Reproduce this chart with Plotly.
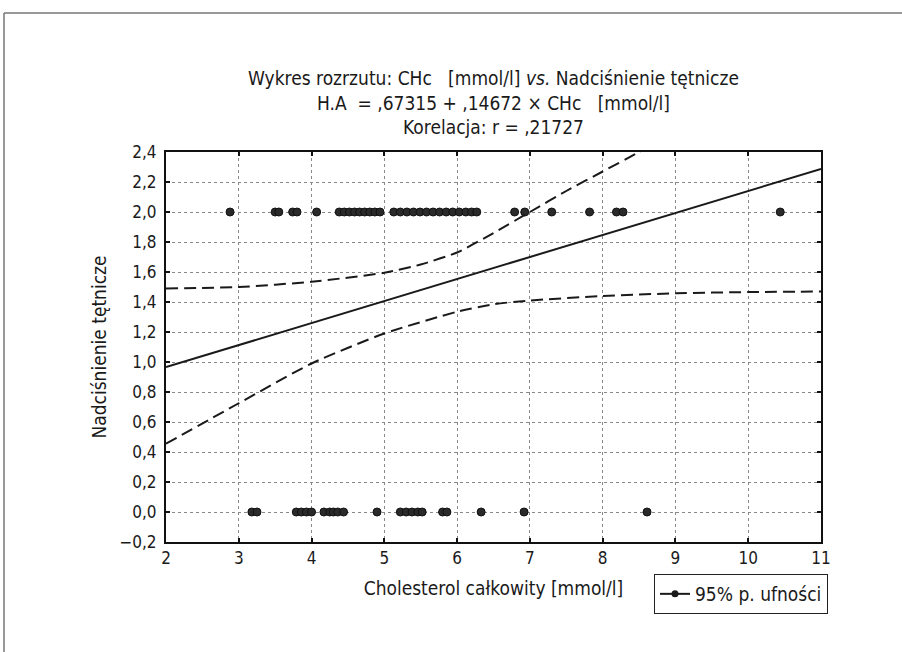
import plotly.graph_objects as go

# ---- data ----
chol_high = [2.88, 3.50, 3.55, 3.74, 3.80, 4.07, 4.38, 4.45, 4.52, 4.59, 4.66, 4.73, 4.80, 4.87, 4.94,
             5.13, 5.22, 5.31, 5.40, 5.49, 5.58, 5.67, 5.76, 5.85, 5.94, 6.03, 6.12, 6.20, 6.27,
             6.79, 6.93, 7.30, 7.82, 8.19, 8.28, 10.44]
ha_high = [2.0] * len(chol_high)
chol_low = [3.18, 3.25, 3.79, 3.86, 3.93, 4.00, 4.17, 4.25, 4.30, 4.36, 4.44, 4.90,
            5.22, 5.30, 5.38, 5.46, 5.52, 5.80, 5.86, 6.33, 6.92, 8.61]
ha_low = [0.0] * len(chol_low)

fit_x = [2, 11]
fit_y = [0.966, 2.287]

upper_x = [2, 3, 4, 5, 5.5, 6, 6.5, 7, 7.5, 8, 8.5, 8.7]
upper_y = [1.49, 1.50, 1.535, 1.595, 1.65, 1.73, 1.86, 2.0, 2.14, 2.27, 2.40, 2.46]
lower_x = [2, 3, 4, 5, 6, 6.5, 7, 8, 9, 10, 11]
lower_y = [0.455, 0.725, 0.99, 1.19, 1.335, 1.385, 1.41, 1.44, 1.458, 1.466, 1.47]

x_ticks = list(range(2, 12))
y_ticks = [round(-0.2 + 0.2 * i, 1) for i in range(14)]

FONT = "DejaVu Sans Condensed, Liberation Sans Narrow, Arial Narrow, sans-serif"
INK = "#1a1a1a"

fig = go.Figure()
fig.add_trace(go.Scatter(x=chol_high + chol_low, y=ha_high + ha_low, mode="markers",
                         marker=dict(size=8, color="#2a2a2a", line=dict(color="#111", width=1)),
                         showlegend=False, cliponaxis=False))
fig.add_trace(go.Scatter(x=fit_x, y=fit_y, mode="lines", line=dict(color=INK, width=2),
                         showlegend=False))
fig.add_trace(go.Scatter(x=upper_x, y=upper_y, mode="lines",
                         line=dict(color=INK, width=2, dash="12px,6px", shape="spline", smoothing=0.6),
                         showlegend=False))
fig.add_trace(go.Scatter(x=lower_x, y=lower_y, mode="lines",
                         line=dict(color=INK, width=2, dash="12px,6px", shape="spline", smoothing=0.6),
                         showlegend=False))
# legend entry
fig.add_trace(go.Scatter(x=[None], y=[None], mode="lines+markers", name="95% p. ufności",
                         line=dict(color=INK, width=2), marker=dict(size=7, color=INK)))

L, R, T, B = 166, 81, 152, 110
W, H = 902, 652
pw, ph = W - L - R, H - T - B

def px(xp):
    return (xp - L) / pw

def py(yp):
    return (H - B - yp) / ph

fig.update_layout(
    width=W, height=H,
    margin=dict(l=L, r=R, t=T, b=B),
    paper_bgcolor="white", plot_bgcolor="white",
    separators=", ",
    font=dict(family=FONT, size=17, color=INK),
    legend=dict(x=px(828), y=py(574), xanchor="right", yanchor="top",
                bordercolor="#222", borderwidth=1, bgcolor="white",
                font=dict(size=19), itemwidth=30, tracegroupgap=0),
    xaxis=dict(range=[2, 11], tickvals=x_ticks, ticktext=[str(v) for v in x_ticks],
               showgrid=True, gridcolor="#888", griddash="dot", gridwidth=1,
               showline=True, linecolor="#111", linewidth=2, mirror="ticks",
               ticks="inside", ticklen=4, tickwidth=1.5, tickcolor="#111",
               zeroline=False, tickfont=dict(size=17),
               title=dict(text="Cholesterol całkowity [mmol/l]", standoff=14,
                          font=dict(size=19, family=FONT))),
    yaxis=dict(range=[-0.2, 2.4], tickvals=y_ticks, tickformat=".1f",
               showgrid=True, gridcolor="#888", griddash="dot", gridwidth=1,
               showline=True, linecolor="#111", linewidth=2, mirror="ticks",
               ticks="inside", ticklen=4, tickwidth=1.5, tickcolor="#111",
               zeroline=False, tickfont=dict(size=17), ticklabelstandoff=4,
               title=dict(text="Nadciśnienie tętnicze", standoff=8,
                          font=dict(size=19, family=FONT))),
    annotations=[dict(
        text=("Wykres rozrzutu: CHc\u00a0\u00a0\u00a0[mmol/l] <i>vs.</i> Nadciśnienie tętnicze<br>"
              "H.A\u00a0\u00a0= ,67315 + ,14672 × CHc\u00a0\u00a0\u00a0[mmol/l]<br>"
              "Korelacja: r = ,21727"),
        xref="paper", yref="paper", x=0.5, y=py(140), xanchor="center", yanchor="bottom",
        showarrow=False, align="center", font=dict(size=19, color=INK))],
    shapes=[
        dict(type="line", xref="paper", yref="paper", x0=px(4), x1=px(4), y0=py(13), y1=py(700),
             line=dict(color="#777", width=1.5)),
        dict(type="line", xref="paper", yref="paper", x0=px(4), x1=px(950), y0=py(13), y1=py(13),
             line=dict(color="#777", width=1.5)),
    ],
)

fig.write_html("out.html")
